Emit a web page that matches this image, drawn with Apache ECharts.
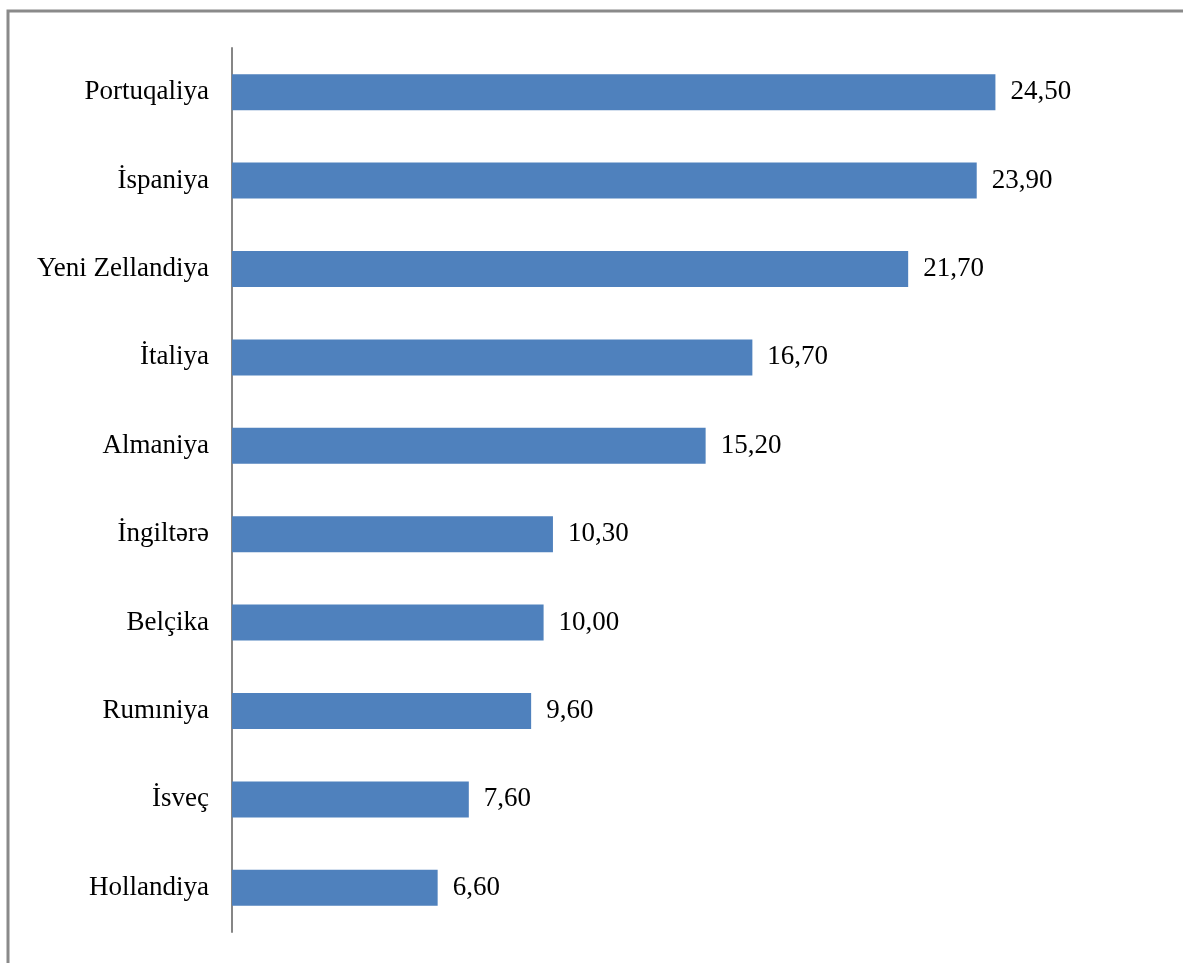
<!DOCTYPE html>
<html>
<head>
<meta charset="utf-8">
<script src="https://cdn.jsdelivr.net/npm/echarts@6/dist/echarts.min.js"></script>
<style>
  html, body { margin: 0; padding: 0; background: #fff; }
  #chart { width: 1183px; height: 963px; }
</style>
</head>
<body>
<div id="chart"></div>
<script>
// ölkələr (yuxarıdan aşağı)
var countries = ['Portuqaliya', 'İspaniya', 'Yeni Zellandiya', 'İtaliya', 'Almaniya',
  'İngiltərə', 'Belçika', 'Rumıniya', 'İsveç', 'Hollandiya']
var values = [24.5, 23.9, 21.7, 16.7, 15.2, 10.3, 10.0, 9.6, 7.6, 6.6]

var myChart = echarts.init(document.getElementById('chart'))

var font = '"Liberation Serif", "DejaVu Serif", serif'

var option = {
  animation: false,
  backgroundColor: '#fff',
  graphic: [
    {
      type: 'rect',
      shape: { x: 8, y: 11, width: 1400, height: 1200 },
      style: { fill: 'none', stroke: '#8a8a8a', lineWidth: 3 },
      silent: true
    }
  ],
  grid: {
    left: 232,
    top: 48,
    width: 779,
    height: 884
  },
  xAxis: {
    type: 'value',
    min: 0,
    max: 25,
    show: false
  },
  yAxis: {
    type: 'category',
    data: countries,
    inverse: true,
    axisLine: {
      show: true,
      lineStyle: { color: '#868686', width: 2 }
    },
    axisTick: { show: false },
    axisLabel: {
      color: '#000',
      fontFamily: font,
      fontSize: 27,
      margin: 23
    }
  },
  series: [
    {
      type: 'bar',
      data: values,
      barWidth: 36,
      itemStyle: { color: '#4F81BD' },
      label: {
        show: true,
        position: 'right',
        distance: 15,
        color: '#000',
        fontFamily: font,
        fontSize: 27,
        formatter: function (p) {
          return p.value.toFixed(2).replace('.', ',')
        }
      }
    }
  ]
}
myChart.setOption(option, true)
</script>
</body>
</html>
